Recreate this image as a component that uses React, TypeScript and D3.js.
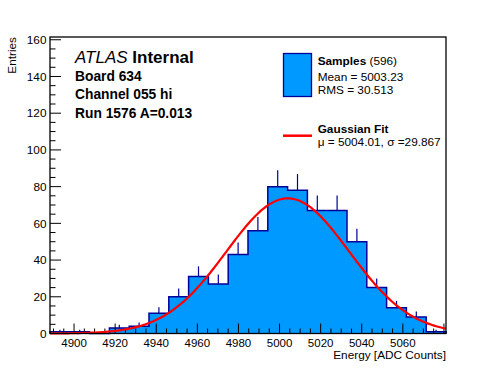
import React from 'react';
import * as d3 from 'd3';

// histogram: 20 bins between X_MIN and X_MAX
const X_MIN = 4888.3;
const X_MAX = 5081.0;
const binCounts = [1, 1, 0, 3, 4, 11, 20, 31, 27, 43, 56, 80, 78, 67, 67, 50, 25, 14, 9, 1];
const xTicks = [4900, 4920, 4940, 4960, 4980, 5000, 5020, 5040, 5060];
const yTicks = [0, 20, 40, 60, 80, 100, 120, 140, 160];

// fit parameters (from the legend) and fitted amplitude
const FIT_MU = 5004.01;
const FIT_SIGMA = 29.867;
const FIT_AMP = 73.6;

const titleLines = ['Board 634', 'Channel 055 hi', 'Run 1576 A=0.013'];

const W = 496;
const H = 372;
const margin = { top: 37, right: 50, bottom: 38.5, left: 50 };
const FONT = '"Liberation Sans", Arial, Helvetica, sans-serif';

const App = () => {
  const x = d3.scaleLinear().domain([X_MIN, X_MAX]).range([margin.left, W - margin.right]);
  const y = d3.scaleLinear().domain([0, 161.5]).range([H - margin.bottom, margin.top]);
  const binW = (X_MAX - X_MIN) / binCounts.length;
  const bins = binCounts.map((n, i) => ({ x0: X_MIN + i * binW, x1: X_MIN + (i + 1) * binW, n }));

  // step outline of the histogram (also used, closed, as the fill)
  const stepPts: [number, number][] = [[x(X_MIN), y(0)] as [number, number]]
    .concat(bins.flatMap(b => [[x(b.x0), y(b.n)], [x(b.x1), y(b.n)]] as [number, number][]))
    .concat([[x(X_MAX), y(0)]]);
  const outline = d3.line()(stepPts) ?? '';

  const gauss = (v: number) => FIT_AMP * Math.exp(-0.5 * ((v - FIT_MU) / FIT_SIGMA) ** 2);
  const fitPts = d3.range(X_MIN, X_MAX + 0.01, (X_MAX - X_MIN) / 200).map(v => [x(v), y(gauss(v))] as [number, number]);
  const fitPath = d3.line()(fitPts) ?? '';

  const x0 = margin.left, x1 = W - margin.right, y0 = H - margin.bottom, y1 = margin.top;
  const xMinor = d3.range(4890, X_MAX, 5);
  const yMinor = d3.range(0, 161.5, 5);

  return (
    <svg width={W} height={H} style={{ position: 'absolute', left: 0, top: 0, background: '#fff' }} fontFamily={FONT}>
      <rect x={0} y={0} width={W} height={H} fill="#fff" />
      {/* filled histogram */}
      <path d={outline + 'Z'} fill="#0099ff" stroke="none" />
      {/* error bars (upper half) */}
      {bins.filter(b => b.n > 0).map((b, i) => (
        <line key={i} x1={x((b.x0 + b.x1) / 2)} x2={x((b.x0 + b.x1) / 2)} y1={y(b.n)} y2={y(b.n + Math.sqrt(b.n))}
          stroke="#000099" strokeWidth={1.2} />
      ))}
      <path d={outline} fill="none" stroke="#000099" strokeWidth={1.5} />

      {/* axis ticks */}
      {xMinor.map(v => {
        const major = v % 20 === 0;
        return <line key={v} x1={x(v)} x2={x(v)} y1={y0} y2={y0 - (major ? 10 : 5)} stroke="#000" strokeWidth={1} />;
      })}
      {yMinor.map(v => {
        const major = v % 20 === 0;
        return <line key={v} x1={x0} x2={x0 + (major ? 11 : 5.5)} y1={y(v)} y2={y(v)} stroke="#000" strokeWidth={1} />;
      })}

      {/* fit */}
      <path d={fitPath} fill="none" stroke="#ff0000" strokeWidth={2.2} />

      {/* frame */}
      <rect x={x0} y={y1} width={x1 - x0} height={y0 - y1} fill="none" stroke="#000" strokeWidth={1.3} />

      {/* tick labels */}
      {xTicks.map(v => (
        <text key={v} x={x(v)} y={347} textAnchor="middle" fontSize={11.5} fill="#000">{v}</text>
      ))}
      {yTicks.map(v => (
        <text key={v} x={46.5} y={y(v) + 4.2} textAnchor="end" fontSize={11.8} fill="#000">{v}</text>
      ))}
      <text x={x1} y={359} textAnchor="end" fontSize={11.8} fill="#000">Energy [ADC Counts]</text>
      <text transform={`translate(15.5,${y1}) rotate(-90)`} textAnchor="end" fontSize={11.8} fill="#000">Entries</text>

      {/* title block */}
      <text x={75} y={62.7} fontSize={17} fill="#000">
        <tspan fontStyle="italic">ATLAS</tspan>
        <tspan fontWeight="bold"> Internal</tspan>
      </text>
      {titleLines.map((t, i) => (
        <text key={t} x={75} y={81 + i * 18.35} fontSize={13.8} fontWeight="bold" fill="#000">{t}</text>
      ))}

      {/* legend */}
      <rect x={283.5} y={53.5} width={28} height={43} fill="#0099ff" stroke="#000099" strokeWidth={1.3} />
      <text x={317.7} y={65} fontSize={11.8} fill="#000">
        <tspan fontWeight="bold">Samples</tspan> (596)
      </text>
      <text x={317.7} y={80.7} fontSize={11.8} fill="#000">Mean = 5003.23</text>
      <text x={317.7} y={94.2} fontSize={11.8} fill="#000">RMS = 30.513</text>
      <line x1={283} x2={312} y1={135.7} y2={135.7} stroke="#ff0000" strokeWidth={2.5} />
      <text x={317.7} y={132.7} fontSize={11.8} fontWeight="bold" fill="#000">Gaussian Fit</text>
      <text x={317.7} y={146} fontSize={11.8} fill="#000">μ = 5004.01, σ =29.867</text>
    </svg>
  );
};

export default App;
